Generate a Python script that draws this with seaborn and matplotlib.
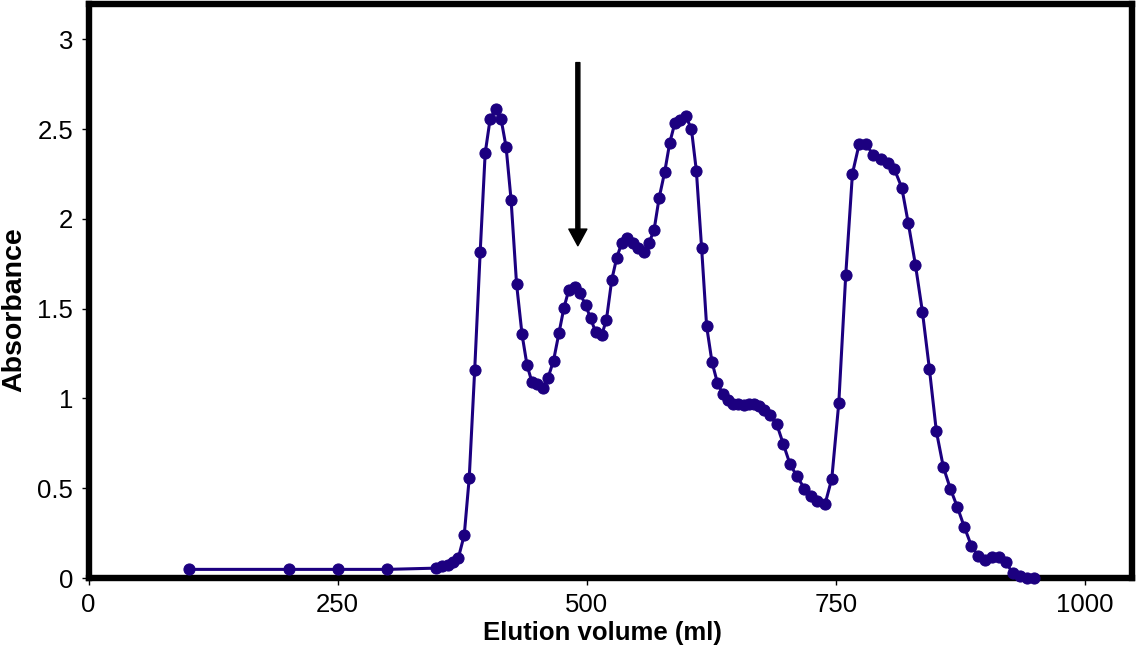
import matplotlib
matplotlib.use("Agg")
import matplotlib.pyplot as plt
import seaborn as sns
import pandas as pd

volume = [101, 201, 250, 300, 349, 355, 361, 366, 371, 377, 382, 387.5, 393, 398, 403, 408.5,
          414, 419, 424, 429.5, 435, 440, 445, 450, 455.6, 461, 466.6, 472, 477, 482, 488, 493,
          498.7, 503.7, 509, 515, 519.7, 525, 530, 535, 540.8, 546.4, 551.8, 557.1, 562.4, 567.5,
          572.5, 578.2, 583.2, 588.2, 593.2, 599.2, 604.9, 609.9, 615.2, 620.2, 625.6, 631, 636.3,
          641.6, 646.6, 652, 657.3, 662.6, 667.6, 672.6, 678, 683.4, 690.4, 697, 703.7, 710.7,
          718.4, 725, 730.8, 739, 745.8, 752.8, 759.8, 766.5, 773.2, 780.2, 787.6, 795.2, 802.6,
          808.6, 816, 822.6, 829.7, 836.7, 843.7, 850.7, 857.7, 864.7, 871.7, 878.7, 885.8, 892.5,
          899.5, 906.5, 913.8, 920.5, 927.2, 934.6, 941.6, 949]
absorbance = [0.048, 0.048, 0.048, 0.048, 0.055, 0.065, 0.075, 0.088, 0.11, 0.239, 0.557, 1.16,
              1.815, 2.365, 2.557, 2.61, 2.554, 2.40, 2.105, 1.637, 1.356, 1.185, 1.09, 1.078,
              1.059, 1.113, 1.211, 1.363, 1.504, 1.606, 1.622, 1.585, 1.522, 1.446, 1.368, 1.354,
              1.439, 1.66, 1.783, 1.865, 1.896, 1.865, 1.835, 1.813, 1.865, 1.939, 2.115, 2.263,
              2.424, 2.531, 2.55, 2.57, 2.502, 2.267, 1.835, 1.402, 1.202, 1.087, 1.026, 0.989,
              0.967, 0.970, 0.961, 0.967, 0.970, 0.955, 0.933, 0.906, 0.859, 0.748, 0.637, 0.567,
              0.498, 0.456, 0.43, 0.411, 0.554, 0.974, 1.689, 2.252, 2.415, 2.415, 2.354, 2.332,
              2.313, 2.276, 2.174, 1.974, 1.744, 1.483, 1.165, 0.817, 0.618, 0.498, 0.396, 0.285,
              0.180, 0.124, 0.100, 0.115, 0.115, 0.087, 0.028, 0.011, 0.0, 0.0]
x_ticks = [0, 250, 500, 750, 1000]
y_ticks = [0, 0.5, 1, 1.5, 2, 2.5, 3]
y_tick_labels = ["0", "0.5", "1", "1.5", "2", "2.5", "3"]
arrow_x = 491
arrow_top = 2.87
arrow_tip = 1.85

sns.set_theme(style="white")
plt.rcParams['font.family'] = ['Liberation Sans', 'DejaVu Sans']

df = pd.DataFrame({"volume": volume, "absorbance": absorbance})

fig = plt.figure(figsize=(11.38, 6.5), dpi=100)
ax = fig.add_axes([88.5 / 1138, (650 - 578) / 650, (1132 - 88.5) / 1138, (578 - 3.5) / 650])

color = "#1C0080"
sns.lineplot(data=df, x="volume", y="absorbance", ax=ax, sort=False, color=color,
             linewidth=2.2, marker="o", markersize=8, markeredgecolor=color,
             markerfacecolor=color, clip_on=False, zorder=5)

ax.annotate("", xy=(arrow_x, arrow_tip), xytext=(arrow_x, arrow_top),
            arrowprops=dict(width=2.9, headwidth=13, headlength=12, facecolor="black",
                            edgecolor="black", shrink=0))

ax.set_xlim(0, 1047)
ax.set_ylim(0, 3.199)
ax.set_xticks(x_ticks)
ax.set_xticklabels([str(t) for t in x_ticks])
ax.set_yticks(y_ticks)
ax.set_yticklabels(y_tick_labels)
ax.tick_params(axis="both", which="major", direction="out", length=5, width=1,
               color="black", labelsize=18.5, labelcolor="black", pad=6,
               bottom=True, left=True)
ax.set_xlabel("Elution volume (ml)", fontsize=18.5, fontweight="bold", color="black")
ax.xaxis.label.set_va("center")
ax.xaxis.set_label_coords((602 - 88.5) / 1043.5, -(633 - 578) / 574.5)
ax.set_ylabel("Absorbance", fontsize=20.5, fontweight="bold", color="black")
ax.yaxis.label.set_va("center")
ax.yaxis.label.set_ha("center")
ax.yaxis.set_label_coords((14 - 88.5) / 1043.5, (578 - 310) / 574.5)
for s in ax.spines.values():
    s.set_visible(True)
    s.set_color("black")
    s.set_linewidth(4.6)
ax.grid(False)

fig.savefig("out.png", dpi=100)
